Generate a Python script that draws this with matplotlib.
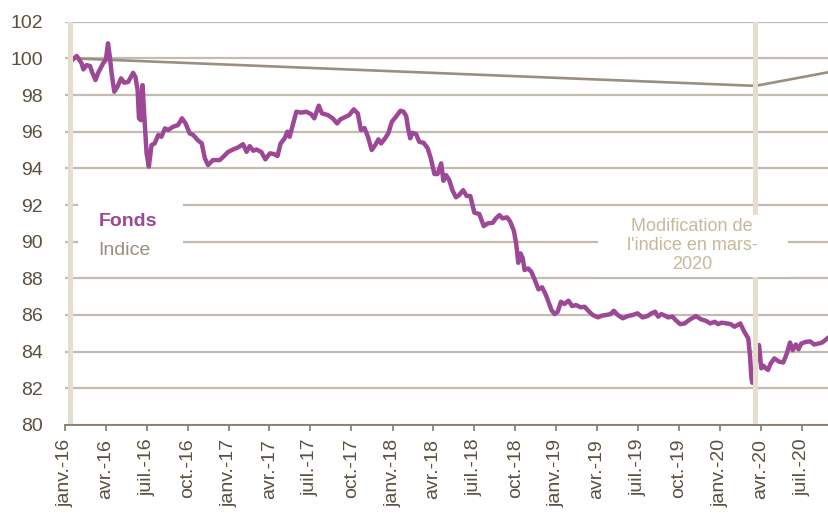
import pandas as pd
import matplotlib
matplotlib.use("Agg")
from matplotlib import pyplot as plt
from matplotlib.patches import Rectangle

plt.rcParams['font.family'] = ['Liberation Sans', 'DejaVu Sans']

# Fonds (base 100)
fund_dates = [
    "2016-01-19", "2016-01-27", "2016-02-07", "2016-02-11", "2016-02-18", "2016-02-26",
    "2016-03-01", "2016-03-09", "2016-03-15", "2016-03-26", "2016-04-01", "2016-04-06",
    "2016-04-10", "2016-04-14", "2016-04-20", "2016-04-27", "2016-05-05", "2016-05-12",
    "2016-05-21", "2016-06-01", "2016-06-06", "2016-06-11", "2016-06-14", "2016-06-18",
    "2016-06-22", "2016-06-26", "2016-07-01", "2016-07-06", "2016-07-12", "2016-07-19",
    "2016-07-27", "2016-08-03", "2016-08-11", "2016-08-18", "2016-08-29", "2016-09-09",
    "2016-09-18", "2016-09-26", "2016-10-05", "2016-10-13", "2016-10-23", "2016-11-01",
    "2016-11-08", "2016-11-15", "2016-11-26", "2016-12-07", "2016-12-11", "2016-12-19",
    "2016-12-30", "2017-01-10", "2017-01-21", "2017-02-01", "2017-02-09", "2017-02-16",
    "2017-02-24", "2017-03-03", "2017-03-14", "2017-03-23", "2017-04-02", "2017-04-11",
    "2017-04-19", "2017-04-26", "2017-05-05", "2017-05-11", "2017-05-16", "2017-05-24",
    "2017-05-31", "2017-06-11", "2017-06-22", "2017-07-03", "2017-07-10", "2017-07-20",
    "2017-07-27", "2017-08-09", "2017-08-20", "2017-08-30", "2017-09-06", "2017-09-15",
    "2017-09-26", "2017-10-06", "2017-10-15", "2017-10-22", "2017-10-30", "2017-11-07",
    "2017-11-15", "2017-11-23", "2017-11-30", "2017-12-06", "2017-12-15", "2017-12-22",
    "2017-12-30", "2018-01-08", "2018-01-18", "2018-01-25", "2018-01-31", "2018-02-05",
    "2018-02-09", "2018-02-14", "2018-02-22", "2018-03-01", "2018-03-11", "2018-03-20",
    "2018-03-27", "2018-04-04", "2018-04-11", "2018-04-19", "2018-04-24", "2018-04-30",
    "2018-05-07", "2018-05-14", "2018-05-22", "2018-05-29", "2018-06-07", "2018-06-15",
    "2018-06-23", "2018-07-02", "2018-07-13", "2018-07-23", "2018-08-01", "2018-08-12",
    "2018-08-19", "2018-08-27", "2018-09-03", "2018-09-13", "2018-09-20", "2018-09-28",
    "2018-10-03", "2018-10-08", "2018-10-13", "2018-10-18", "2018-10-22", "2018-10-30",
    "2018-11-06", "2018-11-14", "2018-11-22", "2018-11-30", "2018-12-07", "2018-12-13",
    "2018-12-21", "2018-12-28", "2019-01-04", "2019-01-11", "2019-01-19", "2019-01-28",
    "2019-02-05", "2019-02-14", "2019-02-24", "2019-03-05", "2019-03-14", "2019-03-23",
    "2019-04-04", "2019-04-12", "2019-04-22", "2019-05-02", "2019-05-09", "2019-05-18",
    "2019-05-29", "2019-06-09", "2019-06-20", "2019-07-01", "2019-07-12", "2019-07-23",
    "2019-08-01", "2019-08-09", "2019-08-16", "2019-08-23", "2019-09-02", "2019-09-07",
    "2019-09-17", "2019-09-24", "2019-10-04", "2019-10-14", "2019-10-26", "2019-11-08",
    "2019-11-20", "2019-11-30", "2019-12-10", "2019-12-20", "2019-12-28", "2020-01-04",
    "2020-01-16", "2020-01-25", "2020-02-02", "2020-02-09", "2020-02-15", "2020-02-24",
    "2020-03-04", "2020-03-08", "2020-03-11", "2020-03-13", "2020-03-28", "2020-04-02",
    "2020-04-07", "2020-04-12", "2020-04-17", "2020-04-23", "2020-05-01", "2020-05-12",
    "2020-05-21", "2020-05-29", "2020-06-05", "2020-06-11", "2020-06-18", "2020-06-24",
    "2020-06-30", "2020-07-10", "2020-07-20", "2020-07-29", "2020-08-07", "2020-08-16",
    "2020-08-27",
]
fund_values = [
    99.95, 100.13, 99.73, 99.40, 99.63, 99.58,
    99.27, 98.82, 99.21, 99.73, 99.91, 100.82,
    100.09, 99.18, 98.18, 98.45, 98.91, 98.67,
    98.72, 99.21, 98.99, 98.27, 96.73, 96.63,
    98.54, 96.81, 94.82, 94.09, 95.27, 95.36,
    95.82, 95.72, 96.18, 96.09, 96.27, 96.36,
    96.73, 96.45, 95.91, 95.82, 95.54, 95.36,
    94.54, 94.18, 94.45, 94.45, 94.45, 94.63,
    94.90, 95.03, 95.14, 95.32, 94.90, 95.21,
    94.96, 95.03, 94.89, 94.49, 94.82, 94.78,
    94.67, 95.36, 95.64, 96.00, 95.72, 96.45,
    97.09, 97.04, 97.09, 96.96, 96.73, 97.42,
    97.00, 96.91, 96.73, 96.45, 96.67, 96.78,
    96.91, 97.22, 97.00, 96.09, 96.20, 95.70,
    95.00, 95.27, 95.58, 95.36, 95.64, 95.91,
    96.54, 96.81, 97.14, 97.09, 96.85, 96.09,
    95.64, 95.94, 95.87, 95.45, 95.39, 95.09,
    94.54, 93.69, 93.69, 94.27, 93.32, 93.63,
    93.36, 92.81, 92.42, 92.54, 92.81, 92.49,
    92.49, 91.58, 91.51, 90.85, 91.00, 91.03,
    91.27, 91.45, 91.27, 91.33, 91.09, 90.60,
    89.95, 88.85, 89.36, 89.09, 88.45, 88.54,
    88.36, 87.90, 87.40, 87.51, 87.18, 86.81,
    86.27, 86.05, 86.18, 86.72, 86.60, 86.78,
    86.49, 86.54, 86.42, 86.45, 86.21, 86.00,
    85.87, 85.96, 86.00, 86.05, 86.23, 86.00,
    85.82, 85.94, 86.00, 86.09, 85.87, 85.94,
    86.09, 86.18, 85.91, 86.05, 85.94, 85.87,
    85.91, 85.72, 85.50, 85.54, 85.76, 85.94,
    85.76, 85.69, 85.54, 85.63, 85.50, 85.58,
    85.54, 85.50, 85.36, 85.45, 85.54, 85.09,
    84.72, 83.72, 82.54, 82.30, 84.36, 83.09,
    83.23, 83.09, 83.00, 83.36, 83.63, 83.45,
    83.41, 83.90, 84.50, 84.08, 84.39, 84.13,
    84.44, 84.53, 84.56, 84.39, 84.44, 84.50,
    84.72,
]

# Indice
index_dates = ["2016-01-19", "2020-03-20", "2020-08-31"]
index_values = [100.0, 98.5, 99.25]

# repères verticaux (début du fonds, changement d'indice)
markers = ["2016-01-12", "2020-03-20"]

month_names = {1: "janv.", 4: "avr.", 7: "juil.", 10: "oct."}
ticks = pd.date_range("2016-01-01", "2020-07-01", freq="QS")
tick_labels = [f"{month_names[t.month]}-{t.strftime('%y')}" for t in ticks]

purple = "#9c4896"
index_col = "#9a8e80"
grid_col = "#c3bab0"
text_col = "#5b4f40"
beige = "#e6ddcf"

fig = plt.figure(figsize=(8.29, 5.17), dpi=100)
ax = fig.add_axes([0.0784, 0.178, 0.9216, 0.78])

ax.plot(pd.to_datetime(index_dates), index_values, color=index_col, lw=1.9, zorder=3)
ax.plot(pd.to_datetime(fund_dates), fund_values, color=purple, lw=3.2,
        solid_joinstyle='round', zorder=4)
for d in markers:
    ax.axvline(pd.Timestamp(d), color=beige, lw=3.6, zorder=5)

ax.set_ylim(80, 102)
ax.set_yticks(range(80, 103, 2))
ax.set_xlim(pd.Timestamp("2016-01-01"), pd.Timestamp("2020-08-31"))
ax.set_xticks(ticks)
ax.set_xticklabels(tick_labels, rotation=90)

ax.yaxis.grid(True, color=grid_col, lw=1.6, zorder=0)
ax.set_axisbelow(True)
for s in ("top", "right", "left"):
    ax.spines[s].set_visible(False)
ax.spines["bottom"].set_color("#85796b")
ax.spines["bottom"].set_linewidth(1.3)
ax.spines["bottom"].set_zorder(6)
ax.tick_params(axis="y", length=0, pad=16, labelsize=14, labelcolor=text_col)
ax.tick_params(axis="x", length=4, width=1.2, color="#85796b", pad=6,
               labelsize=14, labelcolor=text_col)

# légende en texte coloré
ax.add_patch(Rectangle((0.017, 0.40), 0.137, 0.16, transform=ax.transAxes,
                       facecolor="white", edgecolor="none", zorder=7))
ax.text(0.044, 0.504, "Fonds", transform=ax.transAxes, color=purple,
        fontsize=14, fontweight="bold", va="center", zorder=8)
ax.text(0.044, 0.433, "Indice", transform=ax.transAxes, color=index_col,
        fontsize=14, va="center", zorder=8)

# annotation
ax.add_patch(Rectangle((0.698, 0.368), 0.248, 0.152, transform=ax.transAxes,
                       facecolor="white", edgecolor="none", zorder=7))
ax.text(0.821, 0.446, "Modification de\nl'indice en mars-\n2020", transform=ax.transAxes,
        color="#c8b899", fontsize=13, ha="center", va="center",
        linespacing=1.15, zorder=8)

fig.savefig("out.png", dpi=100)
